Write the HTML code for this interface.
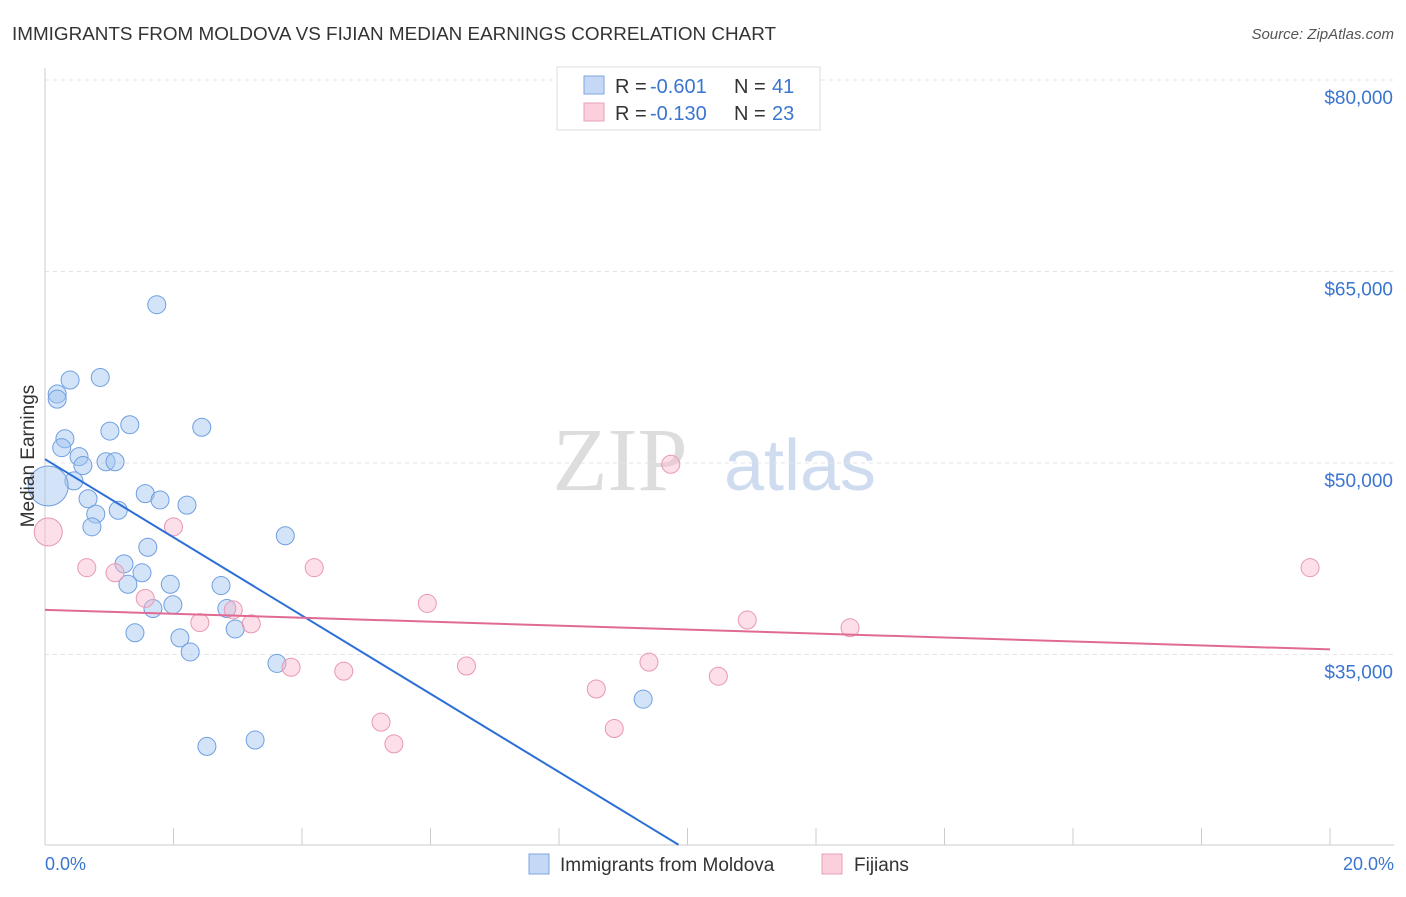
<!DOCTYPE html>
<html><head><meta charset="utf-8"><style>
body{margin:0;background:#fff;font-family:"Liberation Sans",sans-serif}
</style></head><body>
<svg id="c" width="1406" height="892" xmlns="http://www.w3.org/2000/svg">
<text x="12" y="40" font-size="18" fill="#333" textLength="764" lengthAdjust="spacingAndGlyphs">IMMIGRANTS FROM MOLDOVA VS FIJIAN MEDIAN EARNINGS CORRELATION CHART</text>
<text x="1394" y="39" font-size="15" fill="#555" font-style="italic" text-anchor="end">Source: ZipAtlas.com</text>
<text x="620" y="490" font-size="90" fill="#ddd" font-family="Liberation Serif" text-anchor="middle">ZIP</text>
<text x="800" y="490" font-size="72" fill="#cfdcf0" text-anchor="middle">atlas</text>
<g id="grid"></g><g id="pts"></g><g id="lines"></g>
<text x="34" y="456" font-size="19" fill="#333" text-anchor="middle" transform="rotate(-90 34 456)">Median Earnings</text>
<text x="45" y="870" font-size="18" fill="#3a75d0">0.0%</text>
<text x="1394" y="870" font-size="18" fill="#3a75d0" text-anchor="end">20.0%</text>
<g>
<rect x="557" y="67" width="263" height="63" fill="#fff" stroke="#ddd"/>
<rect x="584" y="76" width="20" height="18" fill="#c5d9f6" stroke="#7ea6e0"/>
<rect x="584" y="103" width="20" height="18" fill="#fbd0dc" stroke="#eaa0b8"/>
<text x="615" y="93" font-size="20" fill="#333">R =</text>
<text x="650" y="93" font-size="20" fill="#3a75d0">-0.601</text>
<text x="734" y="93" font-size="20" fill="#333">N =</text>
<text x="772" y="93" font-size="20" fill="#3a75d0">41</text>
<text x="615" y="120" font-size="20" fill="#333">R =</text>
<text x="650" y="120" font-size="20" fill="#3a75d0">-0.130</text>
<text x="734" y="120" font-size="20" fill="#333">N =</text>
<text x="772" y="120" font-size="20" fill="#3a75d0">23</text>
</g>
<g>
<rect x="529" y="854" width="20" height="20" fill="#c5d9f6" stroke="#7ea6e0"/>
<text x="560" y="871" font-size="19" fill="#333">Immigrants from Moldova</text>
<rect x="822" y="854" width="20" height="20" fill="#fbd0dc" stroke="#eaa0b8"/>
<text x="854" y="871" font-size="19" fill="#333">Fijians</text>
</g>
</svg>
<script>
const yTicks=[35000,50000,65000,80000];
const yTickLabels=["$35,000","$50,000","$65,000","$80,000"];
const xTicks=[0,2,4,6,8,10,12,14,16,18,20];
const blueX=[0.19,0.19,0.39,0.86,1.74,0.31,0.26,0.53,0.59,0.95,1.09,1.01,1.32,2.44,0.45,0.67,0.79,0.73,1.14,1.56,1.79,2.21,0.05,1.60,1.23,1.51,1.29,1.95,2.74,1.68,1.99,2.83,1.40,2.10,2.96,2.26,3.74,3.61,2.52,3.27,9.31];
const blueY=[55400,55000,56500,56700,62400,51900,51200,50500,49800,50100,50100,52500,53000,52800,48600,47200,46000,45000,46300,47600,47100,46700,48200,43400,42100,41400,40500,40500,40400,38600,38900,38600,36700,36300,37000,35200,44300,34300,27800,28300,31500];
const blueR=[9,9,9,9,9,9,9,9,9,9,9,9,9,9,9,9,9,9,9,9,9,9,20,9,9,9,9,9,9,9,9,9,9,9,9,9,9,9,9,9,9];
const pinkX=[0.05,2.0,0.65,1.09,1.56,2.41,2.93,3.21,4.19,3.83,4.65,5.23,5.43,5.95,6.56,8.58,8.86,9.40,9.74,10.48,10.93,12.53,19.69];
const pinkY=[44600,45000,41800,41400,39400,37500,38500,37400,41800,34000,33700,29700,28000,39000,34100,32300,29200,34400,49900,33300,37700,37100,41800];
const pinkR=[14,9,9,9,9,9,9,9,9,9,9,9,9,9,9,9,9,9,9,9,9,9,9];
const blueTrend=[[0,50300],[9.86,20100]];
const pinkTrend=[[0,38500],[20,35400]];
const NS='http://www.w3.org/2000/svg';
const X=v=>45+v/20*1285, Y=v=>80+(80000-v)*191.5/15000;
function mk(t,a,p){const e=document.createElementNS(NS,t);for(const k in a)e.setAttribute(k,a[k]);p.appendChild(e);return e;}
const g=document.getElementById('grid');
yTicks.forEach((t,i)=>{
 const l=mk('line',{x1:45,x2:1394,y1:Y(t),y2:Y(t),stroke:'#e4e4e4','stroke-dasharray':'4,4'},g);
 
 
 const tx=mk('text',{x:1393,y:Y(t)+24,'font-size':19,fill:'#3a75d0','text-anchor':'end'},g);
 tx.textContent=yTickLabels[i];
 
 
});
mk('line',{x1:45,x2:45,y1:68,y2:845,stroke:'#ccc'},g);
mk('line',{x1:45,x2:1394,y1:845,y2:845,stroke:'#ccc'},g);
xTicks.forEach(t=>{const l=mk('line',{x1:X(t),x2:X(t),y1:828,y2:845,stroke:'#ccc'},g);
 
 });
const p=document.getElementById('pts');
blueX.forEach((x,i)=>{const c=mk('circle',{cx:X(x),cy:Y(blueY[i]),r:blueR[i],fill:'rgba(160,195,240,0.45)',stroke:'#6f9fe0','stroke-width':1},p);
 
 });
pinkX.forEach((x,i)=>{const c=mk('circle',{cx:X(x),cy:Y(pinkY[i]),r:pinkR[i],fill:'rgba(248,185,205,0.45)',stroke:'#e898b3','stroke-width':1},p);
 
 });
const L=document.getElementById('lines');
const b=mk('line',{x1:X(blueTrend[0][0]),y1:Y(blueTrend[0][1]),x2:X(blueTrend[1][0]),y2:Y(blueTrend[1][1]),stroke:'#2c6fd6','stroke-width':2},L);


const k=mk('line',{x1:X(pinkTrend[0][0]),y1:Y(pinkTrend[0][1]),x2:X(pinkTrend[1][0]),y2:Y(pinkTrend[1][1]),stroke:'#e06a93','stroke-width':2},L);


</script>
</body></html>
